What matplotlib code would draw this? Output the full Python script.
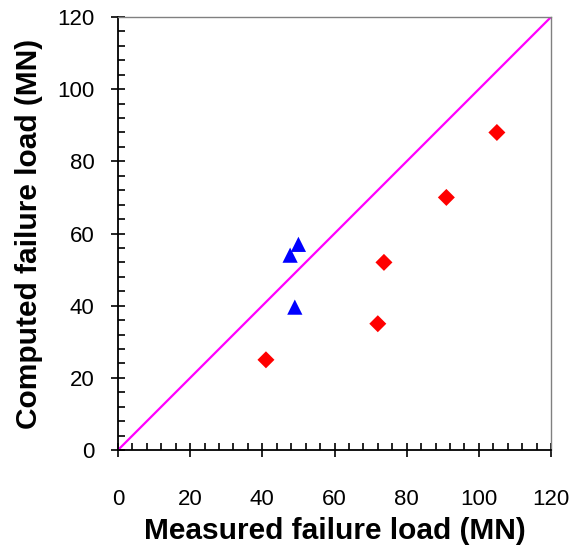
import matplotlib.pyplot as plt
from matplotlib.ticker import MultipleLocator

# measured vs computed failure loads (MN)
red_measured = [41, 72, 73.7, 91, 105]
red_computed = [25, 35, 52, 70, 88]
blue_measured = [47.7, 50, 49]
blue_computed = [54, 57, 39.6]
line_x = [0, 120]
line_y = [0, 120]

plt.rcParams['font.family'] = ['Liberation Sans', 'DejaVu Sans']

fig = plt.figure(figsize=(5.72, 5.47), dpi=100)
ax = fig.add_axes([0.2063, 0.1773, 0.757, 0.7916])

ax.plot(line_x, line_y, color='#ff00ff', lw=1.6, zorder=2)
ax.scatter(red_measured, red_computed, marker='D', s=75, color='#ff0000',
           edgecolors='none', zorder=3)
ax.scatter(blue_measured, blue_computed, marker='^', s=120, color='#0000ff',
           edgecolors='none', zorder=3)

ax.set_xlim(0, 120)
ax.set_ylim(0, 120)
ax.xaxis.set_major_locator(MultipleLocator(20))
ax.yaxis.set_major_locator(MultipleLocator(20))
ax.xaxis.set_minor_locator(MultipleLocator(4))
ax.yaxis.set_minor_locator(MultipleLocator(4))
ax.tick_params(which='major', direction='inout', length=10, width=1.2,
               labelsize=16)
ax.tick_params(which='minor', direction='in', length=5, width=1.2)
ax.tick_params(axis='x', pad=23)
ax.tick_params(axis='y', pad=12)

for side in ['left', 'bottom']:
    ax.spines[side].set_linewidth(1.3)
for side in ['top', 'right']:
    ax.spines[side].set_color('#808080')
    ax.spines[side].set_linewidth(1.0)

ax.set_xlabel('Measured failure load (MN)', fontsize=21.5, fontweight='bold',
              labelpad=5)
ax.set_ylabel('Computed failure load (MN)', fontsize=21.5, fontweight='bold',
              labelpad=10)

fig.savefig('out.png', dpi=100)
